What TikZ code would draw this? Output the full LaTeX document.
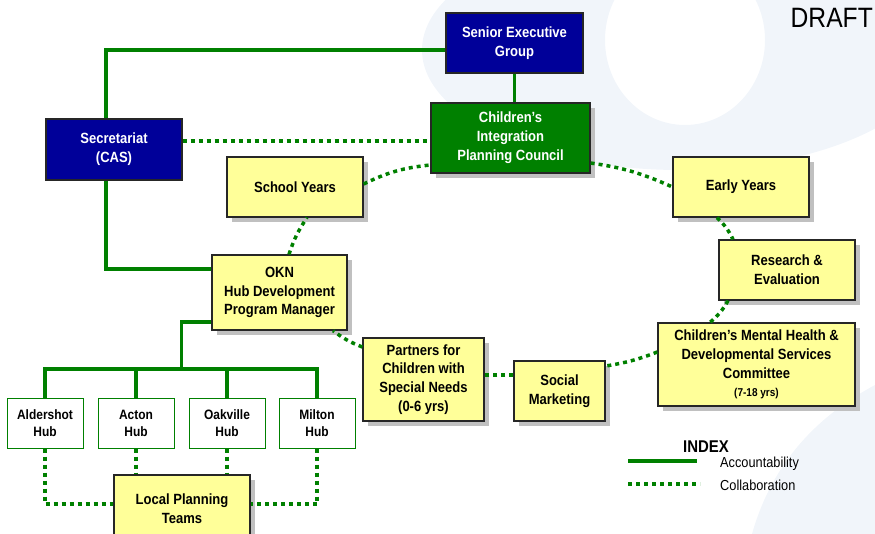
\documentclass[tikz,border=0pt]{standalone}
\usepackage{fontspec}
\setmainfont[FakeStretch=0.88]{Liberation Sans}
\usetikzlibrary{shadows}
\definecolor{navy}{RGB}{0,0,153}
\definecolor{cgreen}{RGB}{0,128,0}
\definecolor{lyellow}{RGB}{255,255,153}
\definecolor{bgblue}{RGB}{241,245,250}
\definecolor{shadowgray}{RGB}{192,192,192}
\begin{document}
\begin{tikzpicture}[x=1pt,y=-1pt,
  sz/.style 2 args={minimum width=#1pt, minimum height=#2pt},
  box/.style={draw=black!85, line width=1.3pt, inner sep=0pt, align=center,
    font=\fontsize{14.8}{18.8}\selectfont\bfseries},
  navybox/.style={box, fill=navy, text=white},
  gbox/.style={box, fill=cgreen, text=white,
    drop shadow={shadow xshift=5pt, shadow yshift=-5pt, fill=shadowgray, opacity=1}},
  ybox/.style={box, fill=lyellow, text=black,
    drop shadow={shadow xshift=5pt, shadow yshift=-5pt, fill=shadowgray, opacity=1}},
  hub/.style={draw=cgreen, line width=1pt, fill=white, inner sep=0pt, align=center,
    minimum width=76pt, minimum height=50pt, font=\fontsize{13.6}{17}\selectfont\bfseries},
  acc/.style={cgreen, line width=3.5pt},
  col/.style={cgreen, line width=3.5pt, dash pattern=on 4pt off 4pt},
  legtext/.style={anchor=base west, inner sep=0pt, font=\fontsize{14.5}{14.5}\selectfont}
]
\useasboundingbox (0,0) rectangle (875,534);
% faint background swirl
\begin{scope}
  \clip (0,0) rectangle (875,534);
  \fill[bgblue, even odd rule] (680,50) ellipse [x radius=258, y radius=120]
                               (685,40) ellipse [x radius=80, y radius=85];
  \fill[bgblue] (875,385) .. controls (810,420) and (770,470) .. (752,534) -- (875,534) -- cycle;
\end{scope}

% nodes
\node[navybox, sz={137}{60}] (seg) at (514.5,43) {Senior Executive\\Group};
\node[gbox, sz={159}{70}] (cipc) at (510.5,138) {Children’s\\Integration\\Planning Council};
\node[navybox, sz={136}{61}] (sec) at (114,149.5) {Secretariat\\(CAS)};
\node[ybox, sz={136}{60}] (school) at (295,187) {School Years};
\node[ybox, sz={136}{60}] (early) at (741,187) {Early Years};
\node[ybox, sz={136}{60}] (research) at (787,270) {Research \&\\Evaluation};
\node[ybox, sz={135}{75}] (okn) at (279.5,292.5) {OKN\\Hub Development\\Program Manager};
\node[ybox, sz={197}{83}] (cmh) at (756.5,364.5) {Children’s Mental Health \&\\Developmental Services\\Committee\\{\fontsize{11.4}{13}\selectfont (7-18 yrs)}};
\node[ybox, sz={121}{83}] (pcsn) at (423.5,379.5) {Partners for\\Children with\\Special Needs\\(0-6 yrs)};
\node[ybox, sz={91}{60}] (sm) at (559.5,391) {Social\\Marketing};
\node[hub] (h1) at (45,423) {Aldershot\\Hub};
\node[hub] (h2) at (136,423) {Acton\\Hub};
\node[hub] (h3) at (227,423) {Oakville\\Hub};
\node[hub] (h4) at (317,423) {Milton\\Hub};
\node[ybox, sz={136}{67}] (lpt) at (182,508.5) {Local Planning\\Teams};

% accountability
\draw[acc] ([yshift=-7pt]seg.west) -| ([xshift=-8pt]sec.north);
\draw[acc] ([xshift=-8pt]sec.south) |- ([yshift=23.5pt]okn.west);
\draw[acc] (seg.south) -- (seg.south |- cipc.north);
\coordinate (bus) at (181.7,369);
\draw[acc] ([yshift=-29.5pt]okn.west) -| (bus);
\draw[acc] (h1.north) |- (bus) -| (h4.north);
\draw[acc] (h2.north) -- (h2.north |- bus);
\draw[acc] (h3.north) -- (h3.north |- bus);

% collaboration
\draw[col] ([yshift=8.5pt]sec.east) -- ([yshift=8.5pt]sec.east -| cipc.west);
\draw[col] ([yshift=3pt]school.east) to[bend left=10] ([yshift=-27pt]cipc.west);
\draw[col] ([yshift=-25pt]cipc.east) to[bend left=8] (early.west);
\draw[col] ([xshift=-24pt]early.south) to[bend left=10] ([xshift=-54pt]research.north);
\draw[col] ([xshift=-59pt]research.south) to[bend left=10] ([xshift=-46.5pt]cmh.north);
\draw[col] ([yshift=12.5pt]cmh.west) to[bend left=6] ([yshift=25pt]sm.east);
\draw[col] ([yshift=16pt]sm.west) -- ([yshift=16pt]sm.west -| pcsn.east);
\draw[col] ([yshift=32.5pt]pcsn.west) to[bend left=8] ([xshift=53.5pt]okn.south);
\draw[col] ([xshift=9.5pt]okn.north) to[bend left=8] ([xshift=12pt]school.south);
\draw[col] (h1.south) |- ([yshift=4.5pt]lpt.west);
\draw[col] (h2.south) -- (h2.south |- lpt.north);
\draw[col] (h3.south) -- (h3.south |- lpt.north);
\draw[col] (h4.south) |- ([yshift=4.5pt]lpt.east);

% legend
\node[anchor=base west, inner sep=0pt, font=\fontsize{17}{17}\selectfont\bfseries] (idx) at (683,452) {INDEX};
\node[legtext] (lacc) at (720,467) {Accountability};
\node[legtext] (lcol) at (720,490) {Collaboration};
\coordinate (a1) at (628,461);
\coordinate (a2) at (697,461);
\coordinate (c1) at (628,484);
\coordinate (c2) at (700,484);
\draw[acc] (a1) -- (a2);
\draw[col] (c1) -- (c2);

% draft mark
\node[anchor=base east, inner sep=0pt, font=\fontsize{28}{28}\selectfont] (draft) at (873,28) {DRAFT};
\end{tikzpicture}
\end{document}
